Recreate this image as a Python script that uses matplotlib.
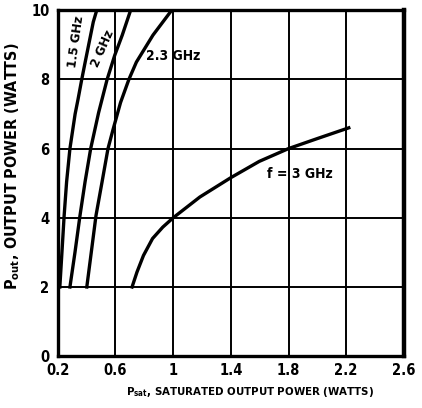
import matplotlib
matplotlib.use("Agg")
import matplotlib.pyplot as plt

plt.rcParams["font.family"] = ["DejaVu Sans"]
plt.rcParams["font.stretch"] = "condensed"
plt.rcParams["font.weight"] = "bold"
plt.rcParams["mathtext.fontset"] = "custom"
plt.rcParams["mathtext.rm"] = "DejaVu Sans:weight=bold:stretch=condensed"
plt.rcParams["mathtext.default"] = "rm"

# curves: Psat (W) vs Pout (W)
f15_psat = [0.214, 0.230, 0.244, 0.261, 0.284, 0.320, 0.340, 0.366, 0.385, 0.413, 0.446, 0.470]
f15_pout = [2.0, 3.1, 4.07, 5.04, 6.0, 7.0, 7.42, 8.0, 8.4, 8.98, 9.66, 10.0]

f20_psat = [0.284, 0.319, 0.354, 0.389, 0.428, 0.483, 0.542, 0.595, 0.647, 0.705]
f20_pout = [2.0, 3.0, 4.07, 5.04, 6.0, 7.04, 8.0, 8.7, 9.28, 10.0]

f23_psat = [0.401, 0.432, 0.465, 0.507, 0.548, 0.583, 0.635, 0.693, 0.745, 0.860, 0.99]
f23_pout = [2.0, 3.0, 4.07, 5.04, 6.0, 6.55, 7.33, 8.0, 8.5, 9.28, 10.0]

f30_psat = [0.715, 0.749, 0.794, 0.857, 0.928, 1.0, 1.185, 1.4, 1.597, 1.8, 2.0, 2.218]
f30_pout = [2.0, 2.43, 2.91, 3.40, 3.73, 4.0, 4.6, 5.16, 5.63, 6.0, 6.29, 6.6]

x_ticks = [0.2, 0.6, 1.0, 1.4, 1.8, 2.2, 2.6]
x_tick_labels = ["0.2", "0.6", "1", "1.4", "1.8", "2.2", "2.6"]
y_ticks = [0, 2, 4, 6, 8, 10]

fig = plt.figure(figsize=(4.22, 4.08), dpi=100)
ax = fig.add_axes([0.137, 0.127, 0.82, 0.848])

for xs, ys in [(f15_psat, f15_pout), (f20_psat, f20_pout),
               (f23_psat, f23_pout), (f30_psat, f30_pout)]:
    ax.plot(xs, ys, color="black", lw=2.4, solid_joinstyle="round", zorder=3)

ax.set_xlim(0.2, 2.6)
ax.set_ylim(0, 10)
ax.set_xticks(x_ticks)
ax.set_xticklabels(x_tick_labels)
ax.set_yticks(y_ticks)
ax.tick_params(length=0, labelsize=10.5)
ax.tick_params(axis="x", pad=5)
ax.tick_params(axis="y", pad=6)
ax.grid(True, color="black", lw=1.4)
for side in ["left", "bottom", "top"]:
    ax.spines[side].set_linewidth(2.4)
ax.spines["right"].set_linewidth(3.2)

ax.set_xlabel(r"$P_{sat},\,SATURATED\ OUTPUT\ POWER\ (WATTS)$", fontsize=8.2)
ax.set_ylabel(r"$P_{out},\,OUTPUT\ POWER\ (WATTS)$", fontsize=11.5)
ax.xaxis.set_label_coords(0.555, -0.083)
ax.yaxis.set_label_coords(-0.104, 0.55)

ax.text(0.326, 9.08, "1.5 GHz", rotation=82, ha="center", va="center", fontsize=9.5)
ax.text(0.515, 8.9, "2 GHz", rotation=66, ha="center", va="center", fontsize=9.5)
ax.text(1.0, 8.67, "2.3 GHz", ha="center", va="center", fontsize=10)
ax.text(1.88, 5.28, "f = 3 GHz", ha="center", va="center", fontsize=10)

fig.savefig("out.png", dpi=100)
